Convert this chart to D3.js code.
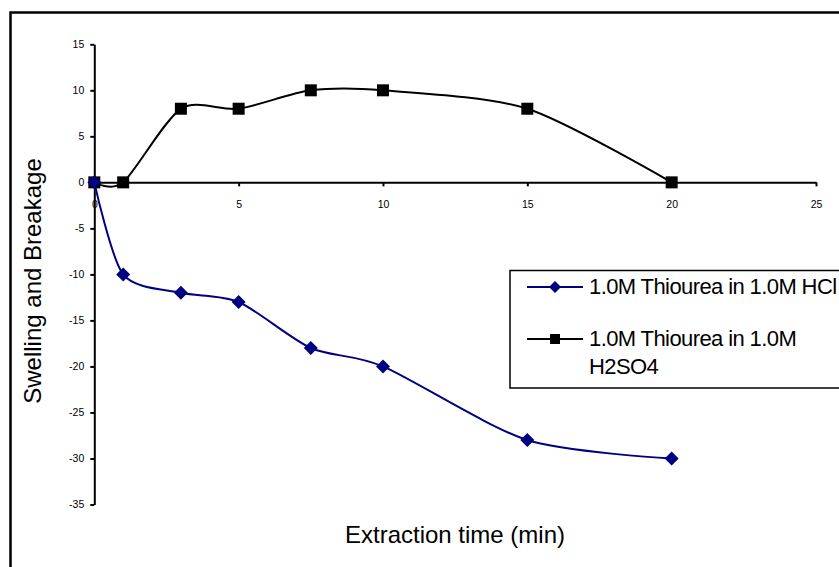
<!DOCTYPE html>
<html>
<head>
<meta charset="utf-8">
<script src="https://cdn.jsdelivr.net/npm/d3@7"></script>
<style>
  body { margin: 0; background: #fff; }
  svg { display: block; font-family: "Liberation Sans", Arial, sans-serif; }
  .axis path, .axis line { stroke: #000; stroke-width: 2; }
  .axis text { font-size: 10.5px; fill: #000; }
</style>
</head>
<body>
<main></main>
<script>
const times = [0, 1, 3, 5, 7.5, 10, 15, 20]
const hclValues = [0, -10, -12, -13, -18, -20, -28, -30]
const h2so4Values = [0, 0, 8, 8, 10, 10, 8, 0]
const xTicks = [0, 5, 10, 15, 20, 25]
const yTicks = [15, 10, 5, 0, -5, -10, -15, -20, -25, -30, -35]

const seriesNames = ["1.0M Thiourea in 1.0M HCl", "1.0M Thiourea in 1.0M H2SO4"]

const w = 839
const h = 567

const svg = d3.select("main").append("svg").attr("width", w).attr("height", h)

// outer chart border (runs off the right and bottom edges)
svg
  .append("rect")
  .attr("x", 10.5)
  .attr("y", 12.5)
  .attr("width", 900)
  .attr("height", 600)
  .attr("fill", "none")
  .attr("stroke", "#000")
  .attr("stroke-width", 2.5)

const xScale = d3.scaleLinear().domain([0, 25]).range([94.3, 816])
const yScale = d3.scaleLinear().domain([-35, 15]).range([504.5, 44.3])

// axes
const xAxis = d3
  .axisBottom(xScale)
  .tickValues(xTicks)
  .tickSize(4)
  .tickSizeOuter(0)
  .tickPadding(14)
  .tickFormat((d) => String(d))

const yAxis = d3
  .axisLeft(yScale)
  .tickValues(yTicks)
  .tickSize(4)
  .tickSizeOuter(0)
  .tickPadding(6)
  .tickFormat((d) => String(d))

svg
  .append("g")
  .attr("class", "axis")
  .attr("transform", `translate(0, ${yScale(0)})`)
  .call(xAxis)

svg
  .append("g")
  .attr("class", "axis")
  .attr("transform", `translate(${xScale(0)}, 0)`)
  .call(yAxis)

// lines
const line = d3
  .line()
  .x((d) => xScale(d[0]))
  .y((d) => yScale(d[1]))
  .curve(d3.curveCardinal.tension(0.2))

const hcl = times.map((t, i) => [t, hclValues[i]])
const h2so4 = times.map((t, i) => [t, h2so4Values[i]])

svg
  .append("path")
  .datum(h2so4)
  .attr("d", line)
  .attr("fill", "none")
  .attr("stroke", "#000")
  .attr("stroke-width", 2)

svg
  .append("path")
  .datum(hcl)
  .attr("d", line)
  .attr("fill", "none")
  .attr("stroke", "#000080")
  .attr("stroke-width", 2)

const diamond = (g, x, y, r) =>
  g
    .append("path")
    .attr("d", `M${x},${y - r}L${x + r},${y}L${x},${y + r}L${x - r},${y}Z`)
    .attr("fill", "#000080")

const square = (g, x, y, s) =>
  g
    .append("rect")
    .attr("x", x - s / 2)
    .attr("y", y - s / 2)
    .attr("width", s)
    .attr("height", s)
    .attr("fill", "#000")

const marks = svg.append("g")
h2so4.forEach((d) => square(marks, xScale(d[0]), yScale(d[1]), 12))
hcl.forEach((d) => diamond(marks, xScale(d[0]), yScale(d[1]), 7))

// axis titles
svg
  .append("text")
  .attr("x", 455)
  .attr("y", 543)
  .attr("text-anchor", "middle")
  .attr("font-size", 24)
  .text("Extraction time (min)")

svg
  .append("text")
  .attr("transform", "translate(41, 281) rotate(-90)")
  .attr("text-anchor", "middle")
  .attr("font-size", 24)
  .text("Swelling and Breakage")

// legend
const legend = svg.append("g")
legend
  .append("rect")
  .attr("x", 510)
  .attr("y", 270.5)
  .attr("width", 400)
  .attr("height", 117.5)
  .attr("fill", "#fff")
  .attr("stroke", "#000")
  .attr("stroke-width", 1.5)

legend
  .append("line")
  .attr("x1", 527)
  .attr("x2", 583)
  .attr("y1", 287)
  .attr("y2", 287)
  .attr("stroke", "#000080")
  .attr("stroke-width", 2)
diamond(legend, 555, 287, 6)

legend
  .append("line")
  .attr("x1", 527)
  .attr("x2", 583)
  .attr("y1", 339)
  .attr("y2", 339)
  .attr("stroke", "#000")
  .attr("stroke-width", 2)
square(legend, 555, 339, 10)

legend
  .append("text")
  .attr("x", 589)
  .attr("y", 293.5)
  .attr("font-size", 22)
  .attr("letter-spacing", -0.6)
  .text(seriesNames[0])

const t2 = legend
  .append("text")
  .attr("x", 589)
  .attr("y", 346)
  .attr("font-size", 22)
  .attr("letter-spacing", -0.6)
t2.append("tspan").text("1.0M Thiourea in 1.0M")
t2.append("tspan").attr("x", 589).attr("dy", 28).text("H2SO4")
</script>
</body>
</html>
